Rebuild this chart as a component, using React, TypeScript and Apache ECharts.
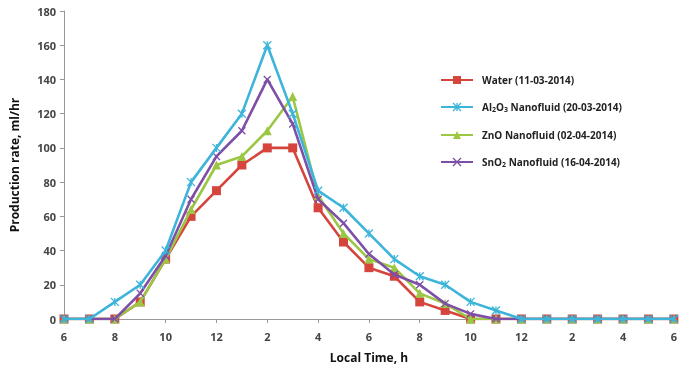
import React, { useEffect, useRef } from "react";
import * as echarts from "echarts";

const hours = ["6","7","8","9","10","11","12","1","2","3","4","5","6","7","8","9","10","11","12","1","2","3","4","5","6"];
const water = [0,0,0,10,35,60,75,90,100,100,65,45,30,25,10,5,0,0,0,0,0,0,0,0,0];
const al2o3 = [0,0,10,20,40,80,100,120,160,120,75,65,50,35,25,20,10,5,0,0,0,0,0,0,0];
const zno = [0,0,0,10,35,64,90,95,110,130,72,50,35,30,15,9,0,0,0,0,0,0,0,0,0];
const sno2 = [0,0,0,15,37,70,95,110,140,114,70,56,38,26,20,9,3,0,0,0,0,0,0,0,0];
const yTicks = { min: 0, max: 180, interval: 20 };

const FONT = "'Open Sans', 'Noto Sans', sans-serif";
const X_PATH = "path://M0,0L10,10M10,0L0,10";
const STAR_PATH = "path://M0,0L10,10M10,0L0,10M5,0L5,10";

export default function App() {
  const ref = useRef<HTMLDivElement>(null);
  useEffect(() => {
    if (!ref.current) return;
    const chart = echarts.init(ref.current, undefined, { renderer: "svg" });
    const mk = (name: string, data: number[], color: string, symbol: string, size: number, stroke: boolean, z: number) => ({
      name,
      type: "line",
      data,
      z,
      symbol,
      symbolSize: size,
      lineStyle: { color, width: 2.6 },
      itemStyle: stroke
        ? { color: "rgba(0,0,0,0)", borderColor: color, borderWidth: 1.3 }
        : { color, borderColor: color, borderWidth: 0 },
      emphasis: { disabled: true },
    });
    chart.setOption({
      animation: false,
      grid: { left: 63, right: 5, top: 11, bottom: 53, containLabel: false },
      legend: {
        orient: "vertical",
        left: 435,
        top: 70,
        itemWidth: 32,
        itemHeight: 10,
        itemGap: 17,
        data: [
          { name: "Water", itemStyle: { color: "#d6453d", borderWidth: 0 } },
          { name: "Al2O3", itemStyle: { color: "#3db5da", borderColor: "#3db5da", borderWidth: 1.3 } },
          { name: "ZnO", itemStyle: { color: "#9cc744", borderWidth: 0 } },
          { name: "SnO2", itemStyle: { color: "#7d4fa7", borderColor: "#7d4fa7", borderWidth: 1.3 } },
        ],
        formatter: (n: string) => {
          if (n === "Water") return "Water (11-03-2014)";
          if (n === "Al2O3") return "Al{sub|2}O{sub|3} Nanofluid (20-03-2014)";
          if (n === "ZnO") return "ZnO Nanofluid (02-04-2014)";
          return "SnO{sub|2} Nanofluid (16-04-2014)";
        },
        textStyle: {
          fontFamily: FONT,
          fontSize: 10,
          fontWeight: "bold",
          color: "#222",
          padding: [0, 0, 0, 4],
          rich: {
            sub: { fontSize: 7, fontFamily: FONT, fontWeight: "bold", color: "#222", verticalAlign: "bottom", padding: [5, 0, 0, 0] },
          },
        },
      },
      xAxis: {
        type: "category",
        data: hours,
        boundaryGap: false,
        name: "Local Time, h",
        nameLocation: "middle",
        nameGap: 32,
        nameTextStyle: { fontFamily: FONT, fontSize: 12, fontWeight: "bold", color: "#111" },
        axisLine: { lineStyle: { color: "#999", width: 1 } },
        axisTick: { show: true, interval: 1, length: 4, lineStyle: { color: "#999" } },
        axisLabel: { interval: 1, fontFamily: FONT, fontSize: 11, fontWeight: "bold", color: "#444", margin: 12 },
        splitLine: { show: false },
      },
      yAxis: {
        type: "value",
        min: yTicks.min,
        max: yTicks.max,
        interval: yTicks.interval,
        name: "Production rate, ml/hr",
        nameLocation: "middle",
        nameGap: 44,
        nameTextStyle: { fontFamily: FONT, fontSize: 12, fontWeight: "bold", color: "#111" },
        axisLine: { show: true, lineStyle: { color: "#999", width: 1 } },
        axisTick: { show: true, length: 4, lineStyle: { color: "#999" } },
        axisLabel: { fontFamily: FONT, fontSize: 11, fontWeight: "bold", color: "#444", margin: 8 },
        splitLine: { show: false },
      },
      series: [
        mk("Water", water, "#d6453d", "rect", 9, false, 2),
        mk("Al2O3", al2o3, "#3db5da", STAR_PATH, 8, true, 5),
        mk("ZnO", zno, "#9cc744", "triangle", 9, false, 3),
        mk("SnO2", sno2, "#7d4fa7", X_PATH, 7, true, 4),
      ],
    });
    return () => chart.dispose();
  }, []);
  return <div ref={ref} style={{ position: "fixed", left: 0, top: 0, width: 680, height: 372 }} />;
}
